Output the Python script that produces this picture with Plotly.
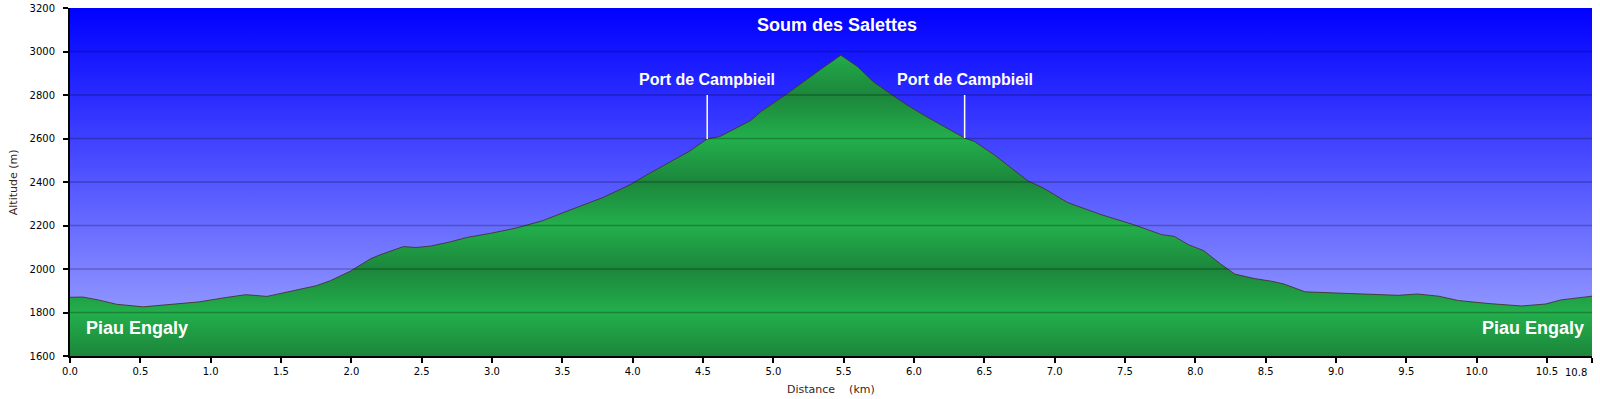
import numpy as np
import plotly.graph_objects as go

# ---- data ----
km = [0.0, 0.09, 0.20, 0.33, 0.52, 0.71, 0.92, 1.11, 1.25, 1.40, 1.585, 1.75, 1.85, 1.99,
      2.14, 2.20, 2.37, 2.46, 2.56, 2.65, 2.70, 2.82, 2.99, 3.17, 3.36, 3.55, 3.79, 3.98,
      4.05, 4.12, 4.40, 4.53, 4.62, 4.84, 4.91, 5.10, 5.33, 5.48, 5.60, 5.71, 5.83, 5.95,
      6.09, 6.24, 6.36, 6.43, 6.57, 6.81, 6.92, 7.09, 7.33, 7.56, 7.76, 7.85, 7.95, 8.06,
      8.18, 8.28, 8.42, 8.54, 8.63, 8.78, 9.01, 9.25, 9.44, 9.58, 9.73, 9.87, 10.09,
      10.32, 10.49, 10.60, 10.82]
altitude = [1870, 1871, 1858, 1838, 1826, 1836, 1849, 1869, 1882, 1874, 1900, 1923, 1946, 1989,
            2048, 2064, 2103, 2099, 2105, 2117, 2124, 2145, 2164, 2188, 2222, 2270, 2329, 2387,
            2414, 2440, 2540, 2598, 2609, 2683, 2723, 2807, 2915, 2983, 2930, 2861, 2807, 2754,
            2700, 2647, 2602, 2586, 2525, 2405, 2372, 2306, 2250, 2204, 2158, 2150, 2112, 2084,
            2023, 1977, 1956, 1944, 1931, 1895, 1889, 1885, 1879, 1885, 1875, 1855, 1841,
            1830, 1839, 1858, 1875]

y_ticks = [1600, 1800, 2000, 2200, 2400, 2600, 2800, 3000, 3200]
x_tick_vals = [0.0, 0.5, 1.0, 1.5, 2.0, 2.5, 3.0, 3.5, 4.0, 4.5, 5.0, 5.5, 6.0, 6.5, 7.0,
               7.5, 8.0, 8.5, 9.0, 9.5, 10.0, 10.5, 10.82]
x_tick_text = ["0.0", "0.5", "1.0", "1.5", "2.0", "2.5", "3.0", "3.5", "4.0", "4.5", "5.0",
               "5.5", "6.0", "6.5", "7.0", "7.5", "8.0", "8.5", "9.0", "9.5", "10.0", "10.5", "10.8"]

summit_name = "Soum des Salettes"
summit_label_km = 5.45
summit_label_alt = 3120
pass_names = ["Port de Campbieil", "Port de Campbieil"]
pass_km = [4.53, 6.36]
pass_label_alt = 2800
start_name = "Piau Engaly"
end_name = "Piau Engaly"
label_alt = 1728

y_min, y_max = y_ticks[0], y_ticks[-1]
x_min, x_max = km[0], km[-1]

# the last tick label is drawn as an annotation, tucked left of its tick
tick_text_shown = x_tick_text[:-1] + [""]

fig = go.Figure()

# sky background (gradient)
fig.add_trace(go.Scatter(
    x=[x_min, x_max, x_max, x_min, x_min],
    y=[y_min, y_min, y_max, y_max, y_min],
    mode="lines", line=dict(width=0), fill="toself",
    fillgradient=dict(type="vertical", start=y_min, stop=y_max,
                      colorscale=[[0, "#A6ACFF"], [1, "#0000FF"]]),
    hoverinfo="skip", showlegend=False))

# terrain with banded green gradient
light, dark = "#23AF4C", "#1C863B"
band_alt = [1600, 1800, 2000, 2200, 2400, 2600, 2800, 3000]
band_col = [dark, light, dark, light, dark, light, dark, light]
cs = [[(a - band_alt[0]) / (band_alt[-1] - band_alt[0]), c] for a, c in zip(band_alt, band_col)]
fig.add_trace(go.Scatter(
    x=km, y=altitude, mode="lines",
    line=dict(color="rgba(70,45,45,0.85)", width=1),
    fill="tozeroy",
    fillgradient=dict(type="vertical", start=band_alt[0], stop=band_alt[-1], colorscale=cs),
    hoverinfo="skip", showlegend=False))

shapes = []
for t in y_ticks[1:-1]:
    shapes.append(dict(type="line", xref="paper", yref="y", x0=0, x1=1, y0=t, y1=t,
                       line=dict(color="rgba(0,0,0,0.25)", width=1.3), layer="above"))
for pk in pass_km:
    pa = float(np.interp(pk, km, altitude))
    shapes.append(dict(type="line", xref="x", yref="y", x0=pk, x1=pk, y0=pa, y1=pass_label_alt,
                       line=dict(color="white", width=1.5), layer="above"))

tick_font = dict(family="DejaVu Sans, Verdana", size=10, color="black")
title_font = dict(family="DejaVu Sans, Verdana", size=11, color="#3a2424")
lab_font = dict(family="Liberation Sans, Arial, sans-serif", color="white", weight="bold")
annotations = [
    dict(x=summit_label_km, y=summit_label_alt, xref="x", yref="y",
         text=summit_name, showarrow=False, font=dict(size=18, **lab_font)),
    dict(x=pass_km[0], y=pass_label_alt, xref="x", yref="y", yanchor="bottom", yshift=5,
         text=pass_names[0], showarrow=False, font=dict(size=16, **lab_font)),
    dict(x=pass_km[1], y=pass_label_alt, xref="x", yref="y", yanchor="bottom", yshift=5,
         text=pass_names[1], showarrow=False, font=dict(size=16, **lab_font)),
    dict(x=0.103, y=label_alt, xref="x", yref="y", xanchor="left",
         text=start_name, showarrow=False, font=dict(size=18, **lab_font)),
    dict(x=10.78, y=label_alt, xref="x", yref="y", xanchor="right",
         text=end_name, showarrow=False, font=dict(size=18, **lab_font)),
    dict(x=-0.0373, y=0.5, xref="paper", yref="paper", textangle=-90,
         xanchor="center", yanchor="middle",
         text="Altitude (m)", showarrow=False, font=title_font),
    dict(x=0.5, y=-0.095, xref="paper", yref="paper", xanchor="center", yanchor="middle",
         text="Distance\u00a0\u00a0\u00a0\u00a0(km)", showarrow=False, font=title_font),
    dict(x=x_tick_vals[-1], y=-0.046, xref="x", yref="paper", xanchor="right",
         yanchor="middle", xshift=-3, text=x_tick_text[-1], showarrow=False, font=tick_font),
]

fig.update_layout(
    width=1600, height=399,
    margin=dict(l=70, r=8, t=8, b=43, pad=0, autoexpand=False),
    paper_bgcolor="white", plot_bgcolor="white",
    shapes=shapes, annotations=annotations,
    xaxis=dict(range=[x_min, x_max], tickvals=x_tick_vals, ticktext=tick_text_shown,
               ticks="outside", ticklen=5, tickwidth=1.5, tickcolor="black",
               showline=True, linecolor="black", linewidth=2, showgrid=False,
               zeroline=False, tickfont=tick_font, automargin=False),
    yaxis=dict(range=[y_min, y_max], tickvals=y_ticks,
               ticks="outside", ticklen=5, tickwidth=1.5, tickcolor="black",
               showline=True, linecolor="black", linewidth=2, showgrid=False,
               zeroline=False, tickfont=tick_font, ticklabelstandoff=6, automargin=False),
    hovermode=False,
)

fig.write_html("out.html")
